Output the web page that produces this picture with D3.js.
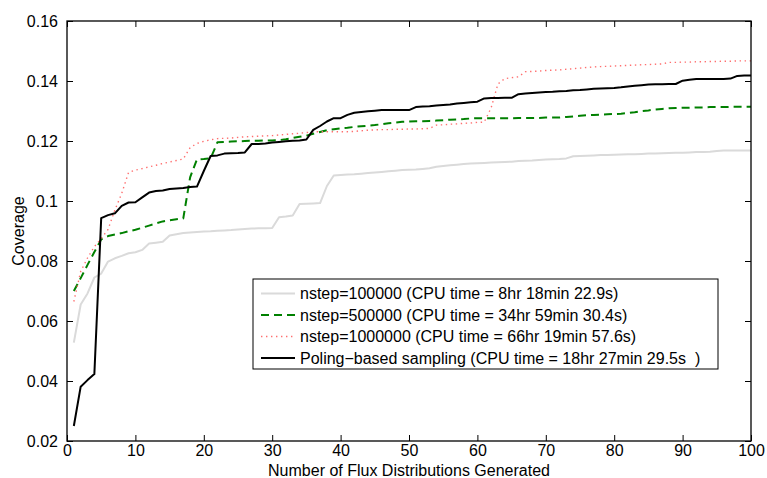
<!DOCTYPE html>
<html>
<head>
<meta charset="utf-8">
<script src="https://cdn.jsdelivr.net/npm/d3@7"></script>
<style>
  html, body { margin: 0; padding: 0; background: #fff; }
  svg { display: block; font-family: "Liberation Sans", Arial, Helvetica, sans-serif; }
</style>
</head>
<body>
<svg id="chart" width="767" height="478"></svg>
<script>
// Coverage reached after each generated flux distribution (1..100)
const xValues = d3.range(1, 101);

const nstep100k = [
  0.0528, 0.0655, 0.0692, 0.0745, 0.0758, 0.0798, 0.0809, 0.0817, 0.0826, 0.0829,
  0.0837, 0.0858, 0.0861, 0.0864, 0.0885, 0.0889, 0.0893, 0.0895, 0.0897, 0.0898,
  0.0899, 0.0901, 0.0902, 0.0903, 0.0905, 0.0907, 0.0908, 0.0909, 0.0909, 0.0910,
  0.0946, 0.0948, 0.0952, 0.0990, 0.0991, 0.0992, 0.0993, 0.1050, 0.1085, 0.1087,
  0.1088, 0.1089, 0.1091, 0.1093, 0.1095, 0.1097, 0.1099, 0.1101, 0.1103, 0.1104,
  0.1105, 0.1107, 0.1109, 0.1114, 0.1117, 0.1119, 0.1121, 0.1123, 0.1125, 0.1126,
  0.1127, 0.1128, 0.1129, 0.1130, 0.1131, 0.1133, 0.1134, 0.1135, 0.1137, 0.1138,
  0.1139, 0.1140, 0.1142, 0.1149, 0.1150, 0.1151, 0.1152, 0.1153, 0.1153, 0.1154,
  0.1155, 0.1156, 0.1156, 0.1157, 0.1158, 0.1158, 0.1159, 0.1160, 0.1161, 0.1161,
  0.1162, 0.1163, 0.1163, 0.1164, 0.1167, 0.1168, 0.1168, 0.1168, 0.1168, 0.1168
];

const nstep500k = [
  0.0700, 0.0743, 0.0787, 0.0830, 0.0872, 0.0883, 0.0888, 0.0893, 0.0899, 0.0904,
  0.0911, 0.0918, 0.0925, 0.0932, 0.0936, 0.0939, 0.0942, 0.1079, 0.1139, 0.1140,
  0.1142, 0.1196, 0.1197, 0.1198, 0.1199, 0.1200, 0.1201, 0.1201, 0.1202, 0.1202,
  0.1203, 0.1206, 0.1210, 0.1214, 0.1218, 0.1224, 0.1230, 0.1236, 0.1239, 0.1242,
  0.1244, 0.1247, 0.1249, 0.1251, 0.1253, 0.1256, 0.1259, 0.1261, 0.1264, 0.1265,
  0.1266, 0.1266, 0.1267, 0.1268, 0.1269, 0.1271, 0.1272, 0.1273, 0.1275, 0.1276,
  0.1276, 0.1276, 0.1276, 0.1276, 0.1276, 0.1277, 0.1277, 0.1277, 0.1277, 0.1278,
  0.1278, 0.1278, 0.1280, 0.1282, 0.1284, 0.1286, 0.1287, 0.1288, 0.1289, 0.1290,
  0.1291, 0.1293, 0.1296, 0.1300, 0.1302, 0.1305, 0.1307, 0.1309, 0.1310, 0.1311,
  0.1311, 0.1312, 0.1312, 0.1313, 0.1313, 0.1313, 0.1314, 0.1314, 0.1314, 0.1314
];

const nstep1000k = [
  0.0665, 0.0765, 0.0810, 0.0848, 0.0875, 0.0905, 0.0970, 0.1025, 0.1095, 0.1103,
  0.1108, 0.1114, 0.1119, 0.1125, 0.1130, 0.1135, 0.1140, 0.1178, 0.1192, 0.1199,
  0.1204, 0.1208, 0.1209, 0.1210, 0.1212, 0.1214, 0.1215, 0.1216, 0.1217, 0.1218,
  0.1220, 0.1222, 0.1224, 0.1226, 0.1228, 0.1231, 0.1231, 0.1231, 0.1231, 0.1231,
  0.1231, 0.1232, 0.1234, 0.1236, 0.1237, 0.1238, 0.1238, 0.1239, 0.1239, 0.1240,
  0.1240, 0.1241, 0.1242, 0.1253, 0.1254, 0.1256, 0.1257, 0.1259, 0.1260, 0.1262,
  0.1263, 0.1310, 0.1390, 0.1408, 0.1411, 0.1414, 0.1431, 0.1432, 0.1433, 0.1435,
  0.1436, 0.1437, 0.1439, 0.1441, 0.1443, 0.1445, 0.1447, 0.1448, 0.1449, 0.1450,
  0.1451, 0.1452, 0.1453, 0.1454, 0.1455, 0.1456, 0.1457, 0.1462, 0.1462, 0.1463,
  0.1463, 0.1464, 0.1464, 0.1465, 0.1465, 0.1466, 0.1466, 0.1467, 0.1467, 0.1467
];

const poling = [
  0.0250, 0.0381, 0.0403, 0.0423, 0.0943, 0.0953, 0.0959, 0.0984, 0.0995, 0.0996,
  0.1012, 0.1028, 0.1033, 0.1035, 0.1040, 0.1042, 0.1043, 0.1047, 0.1048, 0.1100,
  0.1150, 0.1152, 0.1158, 0.1159, 0.1160, 0.1162, 0.1190, 0.1190, 0.1192, 0.1195,
  0.1197, 0.1199, 0.1201, 0.1202, 0.1205, 0.1237, 0.1250, 0.1265, 0.1276, 0.1276,
  0.1287, 0.1294, 0.1297, 0.1299, 0.1301, 0.1303, 0.1303, 0.1303, 0.1303, 0.1303,
  0.1313, 0.1315, 0.1316, 0.1318, 0.1320, 0.1322, 0.1325, 0.1327, 0.1329, 0.1331,
  0.1342, 0.1343, 0.1343, 0.1344, 0.1344, 0.1356, 0.1358, 0.1360, 0.1362, 0.1363,
  0.1364, 0.1366, 0.1367, 0.1369, 0.1370, 0.1372, 0.1374, 0.1375, 0.1376, 0.1377,
  0.1379, 0.1382, 0.1384, 0.1386, 0.1388, 0.1389, 0.1389, 0.1390, 0.1390, 0.1401,
  0.1404, 0.1407, 0.1407, 0.1407, 0.1407, 0.1407, 0.1408, 0.1417, 0.1418, 0.1418
];

const seriesLabels = [
  "nstep=100000 (CPU time = 8hr 18min 22.9s)",
  "nstep=500000 (CPU time = 34hr 59min 30.4s)",
  "nstep=1000000 (CPU time = 66hr 19min 57.6s)",
  "Poling\u2212based sampling (CPU time = 18hr 27min 29.5s  )"
];

const xTicks = d3.range(0, 101, 10);
const yTicks = [0.02, 0.04, 0.06, 0.08, 0.10, 0.12, 0.14, 0.16];
const xTitle = "Number of Flux Distributions Generated";
const yTitle = "Coverage";

// Line styles for each series, in legend order
const styles = [
  { color: "#dadada", width: 2, dash: null },
  { color: "#008000", width: 2, dash: "8,5" },
  { color: "#ff6f6f", width: 1.4, dash: "1.4,3.6" },
  { color: "#000000", width: 2, dash: null }
];
const seriesData = [nstep100k, nstep500k, nstep1000k, poling];

const svg = d3.select("#chart");
const margin = { left: 67, right: 16, top: 21, bottom: 37 };
const W = 767, H = 478;
const plotW = W - margin.left - margin.right;
const plotH = H - margin.top - margin.bottom;

const x = d3.scaleLinear().domain([0, 100]).range([margin.left, margin.left + plotW]);
const y = d3.scaleLinear().domain([0.02, 0.16]).range([margin.top + plotH, margin.top]);

svg.append("rect").attr("width", W).attr("height", H).attr("fill", "#fff");

// Series lines
const line = d3.line().x((d, i) => x(xValues[i])).y(d => y(d));
const g = svg.append("g");
seriesData.forEach((vals, k) => {
  const s = styles[k];
  g.append("path")
    .datum(vals)
    .attr("d", line)
    .attr("fill", "none")
    .attr("stroke", s.color)
    .attr("stroke-width", s.width)
    .attr("stroke-linejoin", "round")
    .attr("stroke-dasharray", s.dash);
});

// Axes: ticks point inward, mirrored on top and right
const tickLen = 6;
const fontSize = 16;
const fmtY = d3.format("~g");

const xAxisB = d3.axisBottom(x).tickValues(xTicks).tickSizeInner(-tickLen).tickSizeOuter(0).tickPadding(4);
const xAxisT = d3.axisTop(x).tickValues(xTicks).tickSizeInner(-tickLen).tickSizeOuter(0).tickFormat("");
const yAxisL = d3.axisLeft(y).tickValues(yTicks).tickSizeInner(-tickLen).tickSizeOuter(0).tickPadding(9).tickFormat(fmtY);
const yAxisR = d3.axisRight(y).tickValues(yTicks).tickSizeInner(-tickLen).tickSizeOuter(0).tickFormat("");

function styleAxis(sel) {
  sel.select(".domain").remove();
  sel.selectAll(".tick line").attr("stroke", "#000").attr("stroke-width", 1);
  sel.selectAll(".tick text")
    .attr("fill", "#000")
    .style("font-size", fontSize + "px")
    .style("font-family", "'Liberation Sans', Arial, Helvetica, sans-serif");
}

svg.append("g").attr("transform", `translate(0,${margin.top + plotH})`).call(xAxisB).call(styleAxis);
svg.append("g").attr("transform", `translate(0,${margin.top})`).call(xAxisT).call(styleAxis);
svg.append("g").attr("transform", `translate(${margin.left},0)`).call(yAxisL).call(styleAxis);
svg.append("g").attr("transform", `translate(${margin.left + plotW},0)`).call(yAxisR).call(styleAxis);

// Plot frame
svg.append("rect")
  .attr("x", margin.left).attr("y", margin.top)
  .attr("width", plotW).attr("height", plotH)
  .attr("fill", "none").attr("stroke", "#000").attr("stroke-width", 1.3);

// Axis titles
svg.append("text")
  .attr("x", margin.left + plotW / 2)
  .attr("y", 476)
  .attr("text-anchor", "middle")
  .style("font-size", fontSize + "px")
  .text(xTitle);

svg.append("text")
  .attr("transform", `translate(24,${margin.top + plotH / 2}) rotate(-90)`)
  .attr("text-anchor", "middle")
  .style("font-size", fontSize + "px")
  .text(yTitle);

// Legend
const legX = 253, legY = 279, legW = 465, legH = 90;
const leg = svg.append("g");
leg.append("rect")
  .attr("x", legX).attr("y", legY).attr("width", legW).attr("height", legH)
  .attr("fill", "#fff").attr("stroke", "#000").attr("stroke-width", 1);

const rowY = d3.scalePoint().domain(d3.range(seriesLabels.length)).range([legY + 14.5, legY + 79]);
seriesLabels.forEach((label, k) => {
  const s = styles[k];
  const cy = rowY(k);
  leg.append("line")
    .attr("x1", legX + 8).attr("x2", legX + 42)
    .attr("y1", cy).attr("y2", cy)
    .attr("stroke", s.color)
    .attr("stroke-width", s.width)
    .attr("stroke-dasharray", s.dash);
  leg.append("text")
    .attr("x", legX + 47)
    .attr("y", cy)
    .attr("dy", "0.35em")
    .style("font-size", fontSize + "px")
    .attr("xml:space", "preserve")
    .style("white-space", "pre")
    .text(label);
});
</script>
</body>
</html>
